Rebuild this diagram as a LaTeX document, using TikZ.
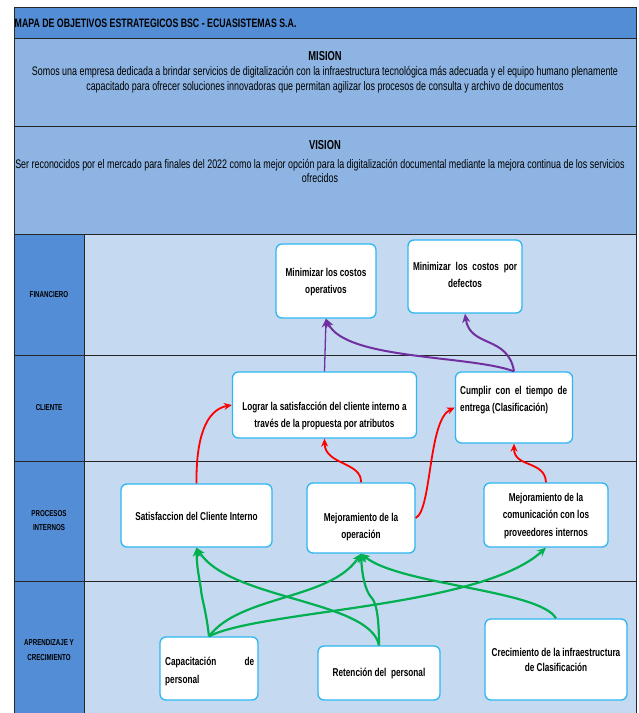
\documentclass[tikz,border=0pt]{standalone}
\usepackage{fontspec}
\setmainfont{Liberation Sans}[FakeStretch=0.72]
\usetikzlibrary{arrows.meta}
\definecolor{titleblue}{RGB}{83,141,213}
\definecolor{missionblue}{RGB}{141,180,226}
\definecolor{lanebg}{RGB}{197,217,241}
\definecolor{boxcyan}{RGB}{45,182,240}
\definecolor{arrgreen}{RGB}{0,176,80}
\definecolor{arrred}{RGB}{255,0,0}
\definecolor{arrpurple}{RGB}{112,48,160}
\begin{document}
\begin{tikzpicture}[x=1pt,y=-1pt,
  gridline/.style={draw=black!85, line width=1pt},
  obj/.style={draw=boxcyan, line width=1.3pt, rounded corners=6pt, fill=white, inner sep=0pt},
  objtxt/.style={font=\bfseries\fontsize{11.4}{17.5}\selectfont, align=center, inner sep=0pt},
  lanelbl/.style={font=\bfseries\fontsize{8.6}{14.5}\selectfont, align=center, inner sep=0pt},
  greenarr/.style={draw=arrgreen, line width=2.2pt, -{Stealth[length=9pt,width=8pt]}},
  redarr/.style={draw=arrred, line width=1.8pt, -{Stealth[length=8pt,width=7pt]}},
  purplearr/.style={draw=arrpurple, line width=2pt, -{Stealth[length=9pt,width=8pt]}}
]
\useasboundingbox (0,0) rectangle (638,713);
% backgrounds
\fill[titleblue] (14,7) rectangle (636,38);
\fill[missionblue] (14,38) rectangle (636,234);
\fill[lanebg] (84,234) rectangle (636,713);
\fill[titleblue] (14,234) rectangle (84,713);
% grid lines
\draw[gridline] (14,713) -- (14,7) -- (636,7) -- (636,713);
\draw[gridline] (14,38) -- (636,38);
\draw[gridline] (14,126) -- (636,126);
\draw[gridline] (14,234) -- (636,234);
\draw[gridline] (14,355) -- (636,355);
\draw[gridline] (14,461) -- (636,461);
\draw[gridline] (14,581) -- (636,581);
\draw[gridline] (84,234) -- (84,713);

% header texts
\node[anchor=west, inner sep=0pt, font=\bfseries\fontsize{12.2}{13}\selectfont] (title) at (14.5,23) {MAPA DE OBJETIVOS ESTRATEGICOS BSC - ECUASISTEMAS S.A.};
\node[inner sep=0pt, font=\bfseries\fontsize{13}{14}\selectfont] (mision) at (325,56) {MISION};
\node[inner sep=0pt, align=center, font=\fontsize{12.4}{14.6}\selectfont] (mtext) at (325,80) {Somos una empresa dedicada a brindar servicios de digitalización con la infraestructura tecnológica más adecuada y el equipo humano plenamente\\capacitado para ofrecer soluciones innovadoras que permitan agilizar los procesos de consulta y archivo de documentos};
\node[inner sep=0pt, font=\bfseries\fontsize{13}{14}\selectfont] (vision) at (325,145) {VISION};
\node[inner sep=0pt, align=center, font=\fontsize{12.4}{14.6}\selectfont] (vtext) at (320,171) {Ser reconocidos por el mercado para finales del 2022 como la mejor opción para la digitalización documental mediante la mejora continua de los servicios\\ofrecidos};

% lane labels
\node[lanelbl] (lfin) at (49,295) {FINANCIERO};
\node[lanelbl] (lcli) at (49,408) {CLIENTE};
\node[lanelbl] (lproc) at (49,520.5) {PROCESOS\\INTERNOS};
\node[lanelbl] (lapr) at (49,650) {APRENDIZAJE Y\\CRECIMIENTO};

% objective boxes
\node[obj, minimum width=100pt, minimum height=74pt] (minop) at (326,281) {};
\node[objtxt] (minopt) at (326,282) {Minimizar los costos\\operativos};

\node[obj, minimum width=114pt, minimum height=73pt] (mindef) at (465,276.5) {};
\node[objtxt, font=\bfseries\fontsize{11.4}{17}\selectfont] (mindeft) at (465,274.5) {\makebox[104pt][s]{Minimizar los costos por}\\defectos};

\node[obj, minimum width=184pt, minimum height=66pt] (lograr) at (324.5,405) {};
\node[objtxt] (lograrit) at (324.5,416) {Lograr la satisfacción del cliente interno a\\través de la propuesta por atributos};

\node[obj, minimum width=117pt, minimum height=71pt] (cumplir) at (514,407.5) {};
\node[objtxt, align=left, anchor=west, font=\bfseries\fontsize{11.4}{17}\selectfont] (cumplirt) at (460,400.5) {\makebox[107pt][s]{Cumplir con el tiempo de}\\entrega (Clasificación)};

\node[obj, minimum width=151pt, minimum height=63pt] (satisf) at (196.5,515.5) {};
\node[objtxt] (satisft) at (196.5,516) {Satisfaccion del Cliente Interno};

\node[obj, minimum width=108pt, minimum height=70pt] (mejop) at (361,518) {};
\node[objtxt, font=\bfseries\fontsize{11.4}{17}\selectfont] (mejopt) at (361,527) {Mejoramiento de la\\operación};

\node[obj, minimum width=124pt, minimum height=64pt] (mejcom) at (546,515) {};
\node[objtxt] (mejcomt) at (546,516) {Mejoramiento de la\\comunicación con los\\proveedores internos};

\node[obj, minimum width=98pt, minimum height=63pt] (capac) at (209,668.5) {};
\node[objtxt, align=left, anchor=west, font=\bfseries\fontsize{11.4}{18}\selectfont] (capact) at (165,671) {\makebox[89pt][s]{Capacitación de}\\personal};

\node[obj, minimum width=122pt, minimum height=54pt] (reten) at (379,673) {};
\node[objtxt] (retent) at (379,673) {Retención del\ \ personal};

\node[obj, minimum width=142pt, minimum height=81pt] (crecim) at (556,659.5) {};
\node[objtxt, font=\bfseries\fontsize{11.4}{15}\selectfont] (crecimt) at (556,660) {Crecimiento de la infraestructura\\de Clasificación};

% purple arrows
\draw[purplearr, line width=1.3pt] (lograr.north) -- (minop.south);
\draw[purplearr] (cumplir.north) .. controls (470,355) and (345,360) .. (minop.south);
\draw[purplearr] (cumplir.north) .. controls (508,335) and (470,348) .. (mindef.south);

% red arrows
\draw[redarr] (satisf.north) .. controls (196,440) and (205,410) .. (lograr.west);
\draw[redarr] (mejop.north) .. controls (362,462) and (325,465) .. (lograr.south);
\draw[redarr] (mejop.east) .. controls (432,510) and (428,420) .. (cumplir.west);
\draw[redarr] (mejcom.north) .. controls (545,460) and (514,468) .. (cumplir.south);

% green arrows
\draw[greenarr] (capac.north) .. controls (206,610) and (202,600) .. (201,590) .. controls (199,575) and (197,570) .. (satisf.south);
\draw[greenarr] (capac.north) .. controls (240,595) and (330,600) .. (mejop.south);
\draw[greenarr] (capac.north) .. controls (260,610) and (480,608) .. (mejcom.south);
\draw[greenarr] (reten.north) .. controls (370,600) and (230,600) .. (satisf.south);
\draw[greenarr] (reten.north) .. controls (379,615) and (376,602) .. (371,597) .. controls (365,590) and (362,575) .. (mejop.south);
\draw[greenarr] (crecim.north) .. controls (540,590) and (400,585) .. (mejop.south);
\end{tikzpicture}
\end{document}
